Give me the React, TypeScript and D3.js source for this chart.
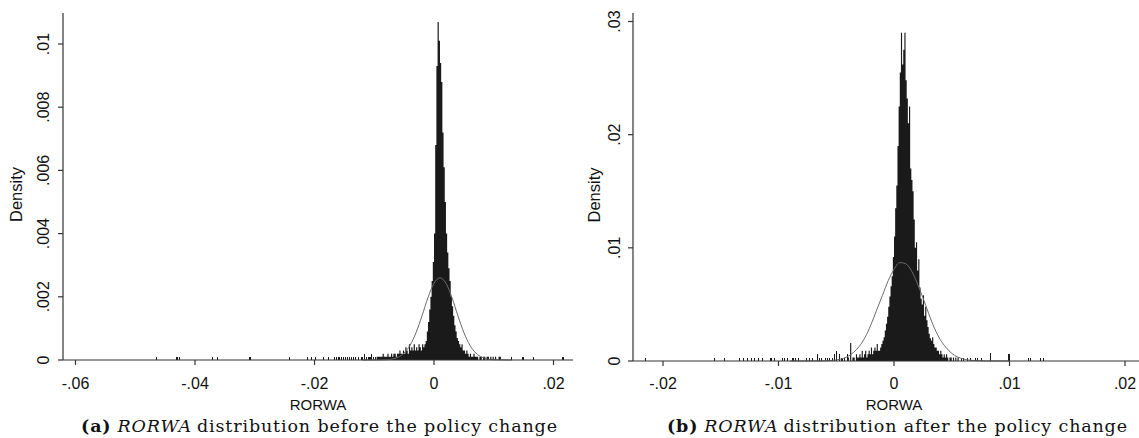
import React from 'react';
import * as d3 from 'd3';

const width = 1139;
const height = 438;

// ---- panel (a): RORWA before the policy change ----
const beforeXTicks = [-0.06, -0.04, -0.02, 0, 0.02];
const beforeXLabels = ['-.06', '-.04', '-.02', '0', '.02'];
const beforeYTicks = [0, 0.002, 0.004, 0.006, 0.008, 0.01];
const beforeYLabels = ['0', '.002', '.004', '.006', '.008', '.01'];
const beforeBinWidth = 0.0002;
const beforeCoreStart = -0.0096;
// contiguous bins from -0.0096 upward
const beforeCore = [
  .0001, .0001, .0001, .0001, .0001, .0002, .0001, .0001, .0001, .0002,
  .0001, .0001, .0002, .0001, .0002, .0002, .0001, .0002, .0002, .0003,
  .0002, .0002, .0003, .0002, .0004, .0003, .0002, .0005, .0003, .0004,
  .0003, .0005, .0003, .0004, .0003, .0005, .0004, .0003, .0005, .0004,
  .0005, .0006, .0009, .0012, .0016, .0020, .0025, .0031, .0040, .0068,
  .0093, .0107, .0101, .0094, .0088, .0072, .0061, .0050, .0040, .0034,
  .0029, .0025, .0020, .0017, .0014, .0011, .0009, .0007, .0006, .0005,
  .0004, .0005, .0003, .0003, .0002, .0003, .0002, .0001, .0002, .0001,
  .0001, .0002, .0001, .0001, .0001, 0, .0001, .0001, 0, .0001,
  .0001, 0, .0001, .0001, 0, .0001, 0, .0001, 0, .0001,
  0, 0, .0001, .0001,
];
// isolated bins in the tails: [bin start, density]
const beforeTail = [
  [-0.0465, .0001], [-0.0431, .0001], [-0.0427, .0001], [-0.0372, .0001], [-0.0363, .0001],
  [-0.0309, .0001], [-0.0243, .0001], [-0.0213, .0001], [-0.0206, .0001], [-0.0199, .0001],
  [-0.0186, .0001], [-0.0178, .0001], [-0.0168, .0001], [-0.0164, .0001], [-0.0160, .0001],
  [-0.0156, .0001], [-0.0152, .0001], [-0.0149, .0001], [-0.0146, .0001], [-0.0142, .0001],
  [-0.0139, .0001], [-0.0136, .0001], [-0.0132, .0001], [-0.0128, .0001], [-0.0123, .0001],
  [-0.0120, .0001], [-0.0117, .0002], [-0.0114, .0001], [-0.0111, .0001], [-0.0108, .0001],
  [-0.0105, .0002], [-0.0102, .0001], [-0.0099, .0001],
  [0.0129, .0001], [0.0148, .0001], [0.0165, .0001], [0.0215, .0001],
];
// normal density overlay
const beforeNormal = [
  [-0.012, 0], [-0.009, 0.000005], [-0.008, 0.00001], [-0.007, 0.00003], [-0.006, 0.00009],
  [-0.005, 0.00022], [-0.004, 0.00047], [-0.003, 0.00087], [-0.002, 0.0014], [-0.001, 0.00198],
  [0, 0.00243], [0.001, 0.0026], [0.002, 0.00243], [0.003, 0.00198], [0.004, 0.0014],
  [0.005, 0.00087], [0.006, 0.00047], [0.007, 0.00022], [0.008, 0.00009], [0.009, 0.00003],
  [0.010, 0.00001], [0.013, 0],
];

// ---- panel (b): RORWA after the policy change ----
const afterXTicks = [-0.02, -0.01, 0, 0.01, 0.02];
const afterXLabels = ['-.02', '-.01', '0', '.01', '.02'];
const afterYTicks = [0, 0.01, 0.02, 0.03];
const afterYLabels = ['0', '.01', '.02', '.03'];
const afterBinWidth = 0.0001;
const afterCoreStart = -0.0040;
const afterCore = [
  .0003, 0, .0016, 0, .0003, .0003, 0, .0006, .0003, .0003,
  .0006, .0003, .0009, .0003, .0006, .0009, .0003, .0006, .0009, .0006,
  .0012, .0006, .0009, .0012, .0009, .0015, .0009, .0009, .0012, .0015,
  .0018, .0021, .0027, .0033, .0039, .0048, .0057, .0066, .0075, .0092,
  .0110, .0135, .0155, .0190, .0225, .0255, .0290, .0262, .0275, .0290,
  .0248, .0232, .0210, .0225, .0170, .0160, .0150, .0125, .0100, .0105,
  .0080, .0090, .0065, .0055, .0050, .0058, .0040, .0048, .0036, .0030,
  .0024, .0020, .0018, .0021, .0015, .0012, .0012, .0009, .0009, .0006,
  .0009, .0006, .0003, .0006, .0003, .0006, .0003, 0, .0003, .0003,
  0, .0003, 0, .0003, 0, .0003,
];
const afterTail = [
  [-0.0216, .0003], [-0.0156, .0003], [-0.0147, .0003], [-0.0134, .0003], [-0.0131, .0003],
  [-0.0127, .0003], [-0.0124, .0003], [-0.0121, .0003], [-0.0118, .0003], [-0.0114, .0003],
  [-0.0107, .0003], [-0.0104, .0003], [-0.0097, .0003], [-0.0095, .0003], [-0.0093, .0003],
  [-0.0088, .0003], [-0.0086, .0003], [-0.0083, .0003], [-0.0076, .0003], [-0.0074, .0003],
  [-0.0071, .0003], [-0.0067, .0006], [-0.0065, .0003], [-0.0063, .0003], [-0.0060, .0003],
  [-0.0058, .0003], [-0.0056, .0003], [-0.0054, .0003], [-0.0052, .0006], [-0.0050, .0009],
  [-0.0048, .0006], [-0.0046, .0003], [-0.0045, .0003], [-0.0043, .0003], [-0.0041, .0006],
  [0.0058, .0003], [0.0060, .0003], [0.0063, .0003], [0.0066, .0003], [0.0070, .0003],
  [0.0072, .0003], [0.0075, .0003], [0.0083, .0007], [0.0099, .0006], [0.0116, .0003],
  [0.0118, .0003], [0.0126, .0003], [0.0129, .0003],
];
const afterNormal = [
  [-0.009, 0], [-0.007, 0.000003], [-0.006, 0.00002], [-0.0055, 0.00004], [-0.005, 0.0001],
  [-0.0045, 0.0002], [-0.004, 0.0004], [-0.0035, 0.00076], [-0.003, 0.0013], [-0.0025, 0.0021],
  [-0.002, 0.0032], [-0.0015, 0.0045], [-0.001, 0.0058], [-0.0005, 0.0071], [0, 0.0081],
  [0.0005, 0.0087], [0.001, 0.0086], [0.0015, 0.0080], [0.002, 0.0069], [0.0025, 0.0056],
  [0.003, 0.0042], [0.0035, 0.0029], [0.004, 0.0019], [0.0045, 0.0012], [0.005, 0.00067],
  [0.0055, 0.00036], [0.006, 0.00018], [0.0065, 0.00008], [0.007, 0.00004], [0.008, 0.000005],
  [0.010, 0],
];

const sans = 'Liberation Sans, Arial, sans-serif';
const serif = 'DejaVu Serif, serif';
const ink = '#1a1a1a';
const axisColor = '#333';

function Panel({ x, y, axisX, axisTop, xTicks, xLabels, yTicks, yLabels, binWidth, coreStart, core, tail, normal, yLabelX, densityX, titleX }) {
  const y0 = y(0);
  const corePts = core.map((d, i) => [coreStart + i * binWidth, d]);
  corePts.push([coreStart + core.length * binWidth, 0]);
  const area = d3.area()
    .x(d => x(d[0]))
    .y0(y0)
    .y1(d => y(d[1]))
    .curve(d3.curveStepAfter);
  const line = d3.line()
    .x(d => x(d[0]))
    .y(d => y(d[1]))
    .curve(d3.curveMonotoneX);
  const yMid = (y(yTicks[0]) + axisTop) / 2 + 8;

  return (
    <g>
      <path d={area(corePts)} fill={ink} stroke="none" />
      {tail.map((d, i) => {
        const w = Math.max(1, x(d[0] + binWidth) - x(d[0]));
        return (
          <rect key={i} x={x(d[0])} width={w} y={y(d[1])} height={y0 - y(d[1])}
            fill={ink} shapeRendering="crispEdges" />
        );
      })}
      <path d={line(normal)} fill="none" stroke="#6a6a6a" strokeWidth={1} />

      {/* y axis */}
      <line x1={axisX[0]} x2={axisX[0]} y1={axisTop} y2={y0} stroke={axisColor} strokeWidth={1.2} />
      {yTicks.map((t, i) => (
        <g key={i}>
          <line x1={axisX[0] - 5} x2={axisX[0]} y1={y(t)} y2={y(t)} stroke={axisColor} strokeWidth={1.2} />
          <text transform={`translate(${yLabelX},${y(t)}) rotate(-90)`} textAnchor="middle"
            fontFamily={sans} fontSize={16} fill="#111">{yLabels[i]}</text>
        </g>
      ))}
      <text transform={`translate(${densityX},${yMid}) rotate(-90)`} textAnchor="middle"
        fontFamily={sans} fontSize={16.5} fill="#111">Density</text>

      {/* x axis */}
      <line x1={axisX[0]} x2={axisX[1]} y1={y0} y2={y0} stroke={axisColor} strokeWidth={1.2} />
      {xTicks.map((t, i) => (
        <g key={i}>
          <line x1={x(t)} x2={x(t)} y1={y0} y2={y0 + 5} stroke={axisColor} strokeWidth={1.2} />
          <text x={x(t)} y={388.5} textAnchor="middle" fontFamily={sans} fontSize={16} fill="#111">{xLabels[i]}</text>
        </g>
      ))}
      <text x={titleX} y={409.5} textAnchor="middle"
        fontFamily={sans} fontSize={15} fill="#111">RORWA</text>
    </g>
  );
}

export default function App() {
  const xBefore = d3.scaleLinear().domain([-0.06, 0.02]).range([75.5, 553.5]);
  const yBefore = d3.scaleLinear().domain([0, 0.01]).range([360, 44]);
  const xAfter = d3.scaleLinear().domain([-0.02, 0.02]).range([663, 1125]);
  const yAfter = d3.scaleLinear().domain([0, 0.03]).range([361, 21.5]);

  return (
    <svg width={width} height={height} style={{ position: 'absolute', left: 0, top: 0, background: '#fff' }}>
      <rect width={width} height={height} fill="#fff" />
      <Panel x={xBefore} y={yBefore} axisX={[63, 573]} axisTop={13}
        xTicks={beforeXTicks} xLabels={beforeXLabels} yTicks={beforeYTicks} yLabels={beforeYLabels}
        binWidth={beforeBinWidth} coreStart={beforeCoreStart} core={beforeCore} tail={beforeTail}
        normal={beforeNormal} yLabelX={48.5} densityX={22} titleX={318} />
      <Panel x={xAfter} y={yAfter} axisX={[633, 1139]} axisTop={13}
        xTicks={afterXTicks} xLabels={afterXLabels} yTicks={afterYTicks} yLabels={afterYLabels}
        binWidth={afterBinWidth} coreStart={afterCoreStart} core={afterCore} tail={afterTail}
        normal={afterNormal} yLabelX={620} densityX={600} titleX={894} />

      <text x={81} y={431.5} fontFamily={serif} fontSize={17.5} fill="#111" textLength={476} lengthAdjust="spacing">
        <tspan fontWeight="bold">(a)</tspan>
        <tspan fontStyle="italic" dx={6}>RORWA</tspan>
        <tspan dx={5}>distribution before the policy change</tspan>
      </text>
      <text x={667} y={431.5} fontFamily={serif} fontSize={17.5} fill="#111" textLength={460} lengthAdjust="spacing">
        <tspan fontWeight="bold">(b)</tspan>
        <tspan fontStyle="italic" dx={6}>RORWA</tspan>
        <tspan dx={5}>distribution after the policy change</tspan>
      </text>
    </svg>
  );
}
